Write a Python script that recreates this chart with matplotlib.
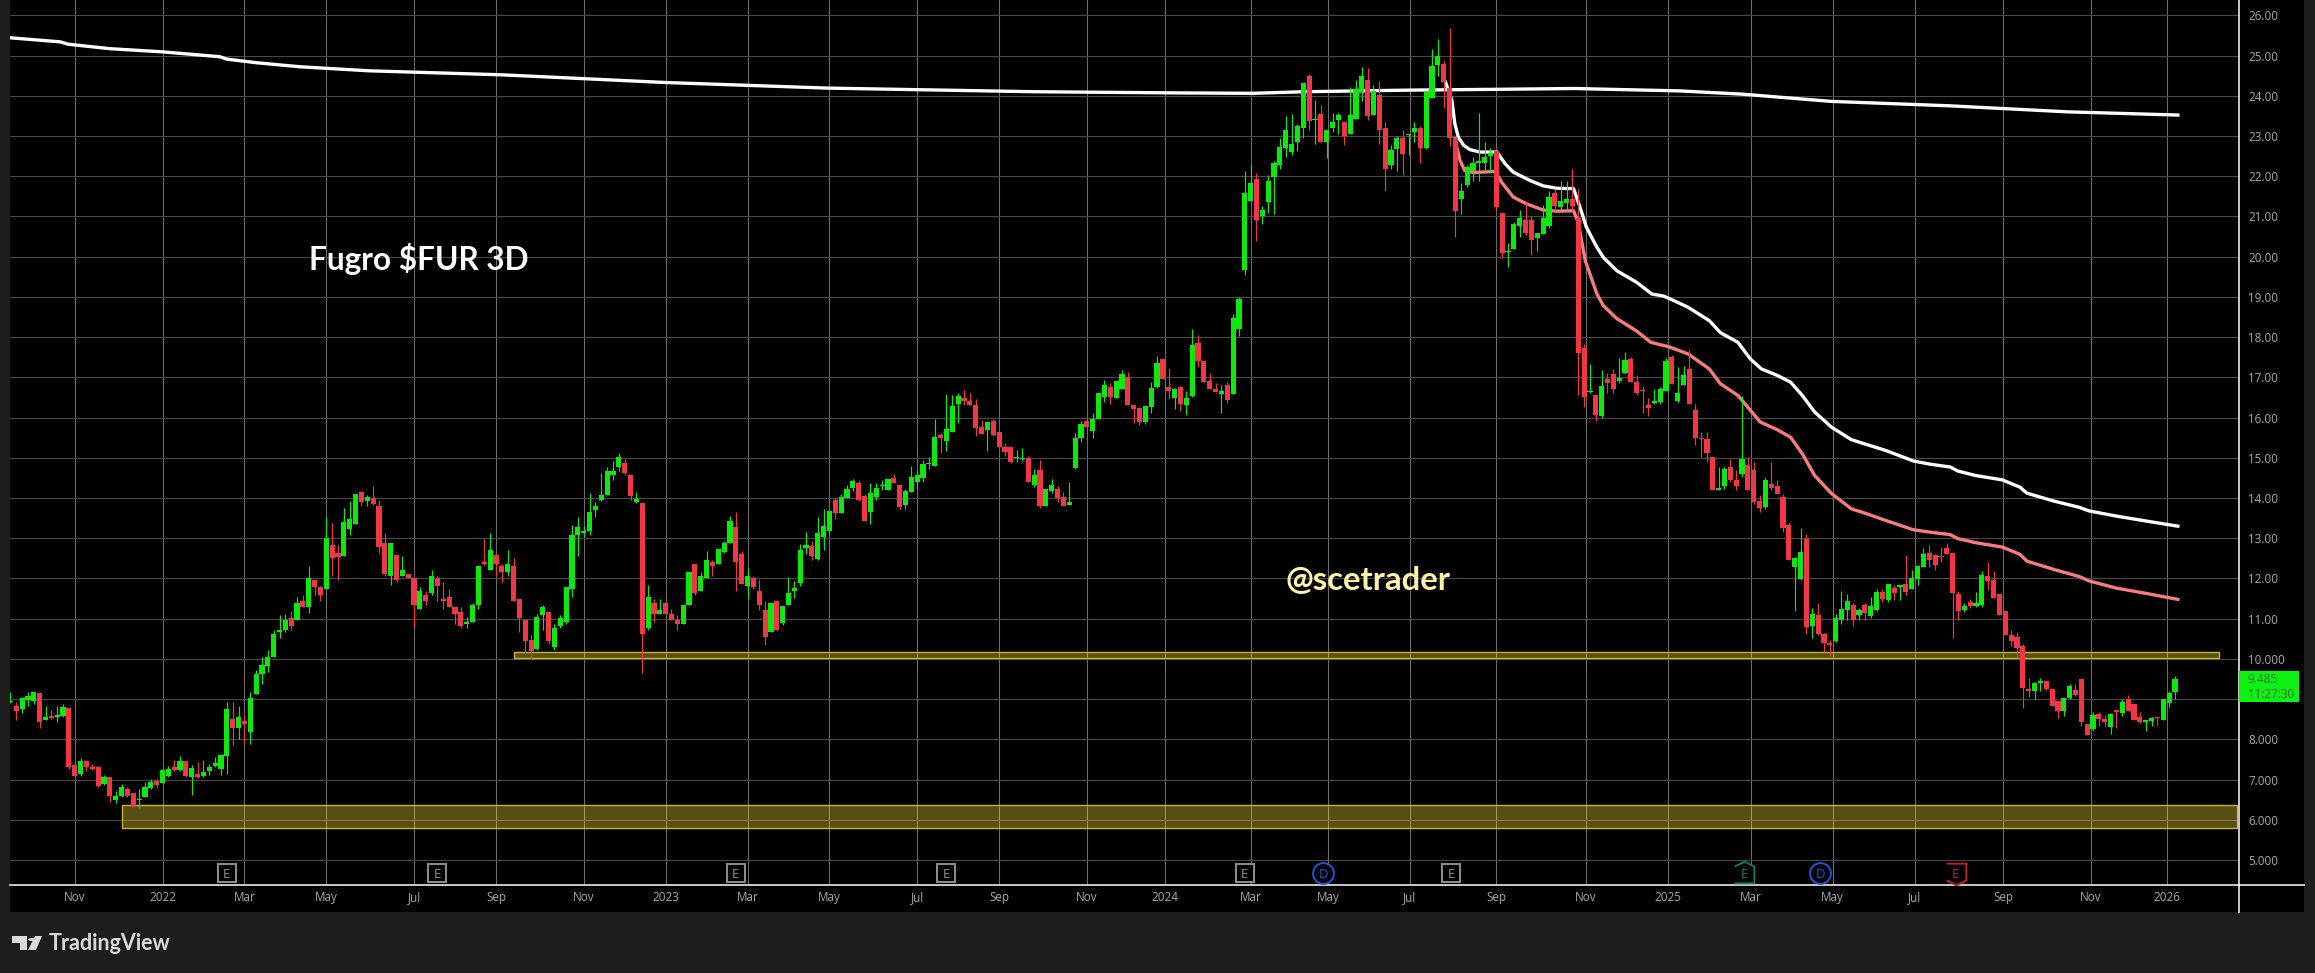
"""Fugro $FUR 3D candlestick chart, TradingView dark layout."""

import matplotlib

matplotlib.use("Agg")
import matplotlib.pyplot as plt
import numpy as np
from matplotlib.lines import Line2D
from matplotlib.patches import Circle, Polygon, Rectangle

W, H = 2315, 973

opens = [
    8.93, 8.82, 8.75, 8.99, 8.95, 9.15, 8.48, 8.58, 8.55, 8.58,
    8.77, 7.36, 7.14, 7.46, 7.31, 7.31, 6.89, 7.06, 6.49, 6.59,
    6.76, 6.67, 6.49, 6.56, 6.79, 6.96, 6.91, 7.09, 7.31, 7.24,
    7.46, 7.06, 7.14, 7.09, 7.21, 7.33, 7.26, 7.58, 8.50, 8.28,
    8.45, 8.18, 9.12, 9.62, 9.82, 10.06, 10.68, 10.73, 11.01, 10.98,
    11.45, 11.28, 11.95, 11.80, 11.75, 12.82, 12.64, 12.57, 13.24, 13.36,
    14.16, 13.93, 14.01, 13.81, 12.89, 12.05, 12.59, 12.07, 12.10, 12.02,
    11.25, 11.60, 11.63, 12.00, 11.50, 11.55, 11.30, 11.16, 10.86, 10.93,
    11.33, 12.40, 12.22, 12.59, 12.30, 12.17, 12.32, 11.48, 10.98, 10.46,
    10.24, 11.08, 11.16, 10.29, 10.81, 10.93, 11.75, 13.09, 13.14, 13.19,
    13.71, 13.96, 14.08, 14.58, 14.76, 14.88, 14.58, 13.90, 13.88, 10.78,
    11.40, 11.11, 11.40, 11.11, 10.98, 10.88, 11.33, 12.35, 11.68, 12.00,
    12.42, 12.35, 12.67, 12.89, 13.29, 12.62, 11.82, 12.00, 11.70, 11.21,
    10.68, 11.43, 10.90, 11.34, 11.69, 11.89, 12.76, 12.81, 12.49, 13.03,
    13.18, 13.95, 13.63, 14.00, 14.25, 14.37, 14.05, 13.65, 14.03, 14.30,
    14.20, 14.50, 14.32, 13.83, 14.15, 14.40, 14.50, 14.84, 14.80, 15.56,
    15.42, 15.64, 16.33, 16.48, 16.41, 16.31, 15.76, 15.69, 15.91, 15.64,
    15.27, 15.27, 14.99, 14.97, 14.99, 14.32, 14.70, 13.80, 14.18, 14.22,
    14.03, 13.83, 14.75, 15.49, 15.91, 15.66, 15.96, 16.51, 16.76, 16.48,
    16.71, 17.00, 16.31, 16.23, 15.89, 16.26, 16.76, 17.45, 16.76, 16.48,
    16.76, 16.31, 16.53, 17.85, 17.40, 16.90, 16.71, 16.58, 16.80, 16.58,
    18.19, 19.67, 21.39, 21.92, 21.02, 21.37, 21.97, 22.27, 22.69, 22.59,
    22.86, 23.21, 24.49, 23.40, 23.54, 22.86, 23.21, 23.39, 23.34, 23.04,
    23.41, 24.09, 24.39, 23.51, 24.01, 23.21, 22.29, 22.67, 22.96, 23.03,
    23.11, 23.19, 22.69, 23.94, 24.76, 24.78, 24.20, 22.94, 21.44, 21.79,
    22.14, 22.32, 22.34, 22.49, 22.62, 21.09, 20.11, 20.20, 20.75, 20.90,
    20.90, 20.47, 20.57, 20.75, 21.59, 21.24, 21.34, 21.44, 20.97, 17.73,
    16.63, 16.56, 16.03, 16.96, 17.08, 16.91, 17.11, 17.46, 16.88, 16.66,
    16.31, 16.37, 16.38, 16.66, 17.51, 16.40, 16.82, 17.20, 16.20, 15.48,
    15.46, 15.01, 14.20, 14.29, 14.76, 14.46, 14.59, 14.81, 14.69, 13.92,
    13.77, 14.36, 14.31, 14.02, 13.32, 12.28, 11.98, 12.99, 10.81, 11.09,
    10.61, 10.39, 10.44, 10.98, 11.21, 11.33, 11.09, 11.33, 11.06, 11.21,
    11.66, 11.46, 11.76, 11.80, 11.86, 11.73, 11.98, 12.28, 12.63, 12.58,
    12.55, 12.75, 12.63, 11.61, 11.21, 11.41, 11.31, 11.33, 12.05, 11.95,
    11.61, 11.18, 10.59, 10.54, 10.32, 9.22, 9.20, 9.41, 9.45, 9.25,
    8.95, 8.70, 9.02, 9.22, 9.50, 8.38, 8.25, 8.63, 8.50, 8.30,
    8.70, 8.65, 9.00, 8.87, 8.55, 8.43, 8.45, 8.53, 8.48, 8.90, 9.17,
]
closes = [
    8.95, 8.71, 9.02, 9.07, 9.17, 8.43, 8.55, 8.53, 8.60, 8.80,
    7.31, 7.09, 7.46, 7.31, 7.26, 6.85, 7.06, 6.59, 6.59, 6.81,
    6.59, 6.32, 6.52, 6.81, 6.94, 6.86, 7.24, 7.26, 7.24, 7.46,
    7.09, 7.28, 7.06, 7.19, 7.31, 7.41, 7.61, 8.75, 8.28, 8.55,
    8.38, 9.02, 9.62, 9.84, 10.04, 10.63, 10.71, 10.98, 10.83, 11.40,
    11.30, 12.02, 11.78, 11.60, 13.00, 12.52, 12.54, 13.41, 13.49, 14.11,
    13.91, 14.03, 13.86, 12.77, 12.10, 12.87, 11.97, 12.20, 12.02, 11.33,
    11.68, 11.45, 12.07, 11.82, 11.45, 11.30, 11.11, 10.81, 10.93, 11.33,
    12.32, 12.37, 12.72, 12.37, 12.15, 12.37, 11.45, 11.01, 10.44, 10.19,
    11.03, 11.30, 10.44, 10.78, 11.01, 11.80, 13.07, 13.29, 13.16, 13.66,
    13.81, 14.08, 14.66, 14.68, 15.01, 14.61, 14.06, 13.98, 10.63, 11.53,
    11.11, 11.21, 11.11, 10.98, 10.86, 11.33, 12.17, 11.65, 12.07, 12.45,
    12.30, 12.74, 12.87, 13.44, 12.40, 11.87, 12.05, 11.78, 11.33, 10.54,
    11.38, 10.73, 11.32, 11.64, 11.77, 12.71, 12.84, 12.56, 13.13, 13.31,
    13.68, 13.63, 14.02, 14.22, 14.42, 13.95, 13.43, 14.13, 14.25, 14.32,
    14.47, 14.37, 13.78, 14.18, 14.52, 14.57, 14.85, 14.85, 15.51, 15.49,
    15.71, 16.28, 16.53, 16.41, 16.31, 15.74, 15.59, 15.89, 15.56, 15.27,
    15.14, 14.89, 15.00, 14.98, 14.40, 14.57, 13.80, 14.22, 14.32, 14.00,
    13.80, 13.90, 15.49, 15.84, 15.76, 15.96, 16.61, 16.81, 16.51, 16.90,
    17.08, 16.31, 16.21, 15.89, 16.28, 16.73, 17.35, 16.95, 16.66, 16.71,
    16.33, 16.48, 17.80, 17.40, 16.88, 16.71, 16.63, 16.66, 16.43, 18.47,
    18.94, 21.57, 21.84, 20.92, 21.17, 21.89, 22.32, 22.72, 23.16, 22.79,
    23.24, 24.31, 23.36, 23.41, 22.84, 23.14, 23.34, 23.51, 23.01, 23.51,
    24.16, 24.49, 23.49, 24.11, 23.14, 22.19, 22.64, 22.96, 22.54, 23.04,
    23.19, 22.69, 24.09, 24.73, 24.98, 24.34, 22.94, 21.14, 21.64, 22.24,
    22.32, 22.39, 22.47, 22.57, 21.24, 20.10, 20.12, 20.80, 20.95, 20.60,
    20.42, 20.60, 20.97, 21.49, 21.27, 21.39, 21.44, 21.27, 17.60, 16.51,
    16.64, 16.06, 16.78, 16.86, 16.71, 16.98, 17.43, 16.88, 16.61, 16.65,
    16.23, 16.38, 16.71, 17.41, 16.83, 16.62, 17.07, 16.33, 15.48, 15.47,
    15.13, 14.19, 14.24, 14.71, 14.46, 14.31, 14.96, 14.19, 13.89, 13.74,
    14.44, 14.24, 14.11, 13.25, 12.45, 12.50, 12.67, 10.79, 11.11, 10.61,
    10.39, 10.34, 11.01, 11.23, 11.43, 10.96, 11.21, 11.14, 11.31, 11.66,
    11.48, 11.86, 11.63, 11.81, 11.66, 12.00, 12.30, 12.60, 12.45, 12.33,
    12.54, 12.60, 11.63, 11.18, 11.31, 11.31, 11.38, 12.08, 11.93, 11.51,
    11.09, 10.59, 10.44, 10.27, 9.27, 9.21, 9.40, 9.42, 9.25, 8.82,
    8.70, 9.02, 9.32, 9.10, 8.43, 8.10, 8.60, 8.50, 8.43, 8.63,
    8.69, 8.92, 8.70, 8.48, 8.43, 8.48, 8.53, 8.52, 9.00, 9.15, 9.50,
]
highs = [
    9.19, 8.93, 9.05, 9.17, 9.17, 9.15, 8.82, 8.72, 8.82, 8.87,
    8.77, 7.36, 7.53, 7.48, 7.38, 7.33, 7.11, 7.06, 6.71, 6.89,
    6.81, 6.67, 6.76, 6.94, 7.01, 7.01, 7.26, 7.33, 7.48, 7.58,
    7.46, 7.36, 7.43, 7.48, 7.38, 7.56, 7.63, 8.92, 8.92, 8.82,
    8.60, 9.19, 9.72, 10.04, 10.21, 10.71, 11.08, 11.11, 11.18, 11.55,
    11.58, 12.30, 11.95, 11.82, 13.54, 13.39, 12.82, 13.74, 13.93, 14.11,
    14.18, 14.08, 14.31, 13.96, 13.12, 12.87, 12.59, 12.57, 12.10, 12.02,
    11.80, 11.68, 12.20, 12.07, 11.90, 11.73, 11.30, 11.30, 11.03, 11.40,
    12.32, 12.97, 13.12, 12.59, 12.35, 12.72, 12.52, 11.48, 10.98, 10.59,
    11.11, 11.33, 11.16, 10.88, 11.08, 11.80, 13.34, 13.54, 13.31, 14.13,
    13.91, 14.61, 14.76, 14.91, 15.11, 14.96, 14.58, 14.16, 13.88, 11.85,
    11.50, 11.50, 11.40, 11.23, 11.08, 11.35, 12.17, 12.35, 12.15, 12.69,
    12.47, 12.74, 12.92, 13.56, 13.64, 12.69, 12.25, 12.05, 11.95, 11.45,
    11.38, 11.43, 11.32, 12.04, 11.94, 12.86, 13.16, 12.93, 13.53, 13.73,
    13.68, 14.00, 14.10, 14.32, 14.47, 14.42, 14.10, 14.37, 14.37, 14.45,
    14.47, 14.60, 14.32, 14.22, 14.80, 14.70, 14.94, 15.02, 15.96, 15.61,
    16.58, 16.56, 16.61, 16.68, 16.61, 16.46, 15.94, 15.89, 15.96, 15.64,
    15.37, 15.27, 15.19, 15.24, 15.04, 14.72, 14.94, 14.22, 14.47, 14.30,
    14.15, 14.40, 15.61, 15.91, 16.11, 16.11, 16.61, 16.93, 16.85, 16.90,
    17.18, 17.13, 16.31, 16.23, 16.28, 16.88, 17.52, 17.45, 17.23, 16.73,
    16.78, 16.66, 18.19, 18.05, 17.40, 17.10, 16.85, 16.80, 16.88, 18.57,
    18.99, 22.14, 22.27, 22.07, 21.27, 22.02, 22.39, 22.96, 23.49, 23.54,
    23.29, 24.31, 24.54, 23.89, 23.76, 23.14, 23.56, 23.56, 23.34, 24.21,
    24.39, 24.71, 24.68, 24.26, 24.36, 23.34, 22.77, 23.01, 23.16, 23.05,
    23.34, 23.24, 24.09, 25.16, 25.41, 24.86, 25.68, 22.94, 21.82, 22.27,
    22.47, 23.56, 22.84, 22.69, 22.62, 21.09, 20.35, 20.85, 21.17, 21.39,
    21.02, 20.60, 21.29, 21.64, 21.69, 21.89, 21.89, 22.17, 21.69, 17.83,
    17.33, 16.56, 17.18, 17.11, 17.21, 17.48, 17.63, 17.51, 17.06, 16.78,
    16.48, 16.71, 16.76, 17.48, 17.56, 17.25, 17.27, 17.67, 16.33, 15.63,
    15.63, 15.01, 14.76, 14.76, 14.96, 14.69, 16.53, 15.03, 14.89, 14.07,
    14.51, 14.89, 14.44, 14.09, 13.40, 12.53, 13.25, 13.10, 11.26, 11.38,
    10.64, 10.46, 11.11, 11.68, 11.61, 11.38, 11.26, 11.38, 11.53, 11.73,
    11.73, 11.86, 11.83, 11.83, 12.58, 12.20, 12.33, 12.75, 12.82, 12.60,
    12.77, 12.87, 12.63, 11.68, 11.38, 11.48, 11.66, 12.18, 12.40, 12.18,
    11.61, 11.18, 10.71, 10.66, 10.36, 9.52, 9.42, 9.52, 9.45, 9.25,
    8.95, 9.02, 9.37, 9.37, 9.50, 8.38, 8.68, 8.68, 8.60, 8.65,
    8.70, 9.00, 9.10, 8.87, 8.68, 8.48, 8.55, 8.55, 9.00, 9.20, 9.57,
]
lows = [
    8.90, 8.48, 8.66, 8.82, 8.89, 8.29, 8.48, 8.50, 8.43, 8.56,
    7.27, 7.09, 7.09, 7.21, 7.24, 6.82, 6.86, 6.44, 6.42, 6.57,
    6.57, 6.32, 6.29, 6.56, 6.76, 6.79, 6.91, 7.06, 7.21, 7.21,
    7.06, 6.62, 7.04, 7.06, 7.11, 7.32, 7.11, 7.14, 7.86, 8.00,
    7.90, 7.88, 9.12, 9.37, 9.67, 10.04, 10.51, 10.66, 10.71, 10.96,
    11.30, 11.13, 11.58, 11.45, 11.75, 12.07, 11.97, 12.57, 13.07, 13.36,
    13.79, 13.81, 13.83, 12.64, 12.07, 11.85, 11.92, 12.05, 12.00, 10.76,
    11.25, 11.35, 11.60, 11.45, 11.25, 11.28, 10.87, 10.76, 10.76, 10.93,
    11.25, 12.32, 12.22, 12.05, 11.90, 12.07, 11.45, 10.68, 10.11, 10.01,
    10.21, 10.71, 10.36, 10.21, 10.78, 10.87, 11.55, 12.57, 13.02, 13.07,
    13.54, 13.93, 14.08, 14.46, 14.66, 14.56, 13.96, 13.88, 9.64, 10.71,
    10.93, 11.11, 11.11, 10.96, 10.73, 10.87, 11.33, 11.58, 11.68, 12.00,
    12.07, 12.35, 12.64, 12.87, 11.70, 11.87, 11.50, 11.75, 11.21, 10.34,
    10.68, 10.70, 10.85, 11.34, 11.52, 11.82, 12.61, 12.46, 12.46, 12.71,
    13.11, 13.48, 13.63, 14.00, 14.18, 13.93, 13.43, 13.36, 13.95, 14.20,
    14.20, 14.37, 13.73, 13.73, 14.15, 14.22, 14.40, 14.72, 14.80, 15.12,
    15.17, 15.64, 15.86, 16.31, 16.31, 15.54, 15.59, 15.17, 15.54, 15.27,
    15.04, 14.87, 14.89, 14.92, 14.40, 14.27, 13.75, 13.80, 14.13, 13.90,
    13.80, 13.83, 14.72, 15.39, 15.44, 15.49, 15.96, 16.38, 16.33, 16.48,
    16.71, 16.31, 15.86, 15.81, 15.84, 16.11, 16.73, 16.95, 16.46, 16.21,
    16.16, 16.06, 16.51, 17.25, 16.88, 16.71, 16.63, 16.11, 16.36, 16.58,
    18.02, 19.55, 21.39, 20.40, 20.80, 21.09, 21.05, 22.17, 22.47, 22.52,
    22.62, 22.96, 23.14, 22.81, 22.84, 22.44, 23.11, 23.06, 22.77, 23.04,
    23.41, 23.86, 23.39, 23.51, 22.79, 21.64, 22.19, 22.12, 22.02, 22.52,
    22.86, 22.32, 22.67, 23.94, 24.49, 23.69, 22.74, 20.50, 21.07, 21.74,
    21.89, 21.89, 22.09, 22.09, 21.17, 19.97, 19.75, 20.20, 20.50, 20.55,
    20.05, 20.15, 20.57, 20.72, 21.14, 21.17, 21.14, 21.14, 16.56, 16.26,
    16.61, 15.91, 15.98, 16.61, 16.61, 16.86, 17.08, 16.88, 16.56, 16.11,
    16.03, 16.33, 16.33, 16.66, 16.83, 16.38, 16.82, 16.33, 15.33, 15.01,
    14.91, 14.19, 14.20, 14.22, 14.41, 14.19, 14.51, 14.19, 13.84, 13.64,
    13.72, 14.19, 14.09, 13.15, 12.45, 11.18, 11.95, 10.61, 10.51, 10.59,
    10.17, 10.07, 10.41, 10.86, 10.96, 10.81, 10.98, 10.98, 11.01, 11.18,
    11.41, 11.41, 11.46, 11.46, 11.58, 11.73, 11.83, 12.28, 12.28, 12.20,
    12.40, 12.60, 10.51, 10.98, 11.16, 11.26, 11.28, 11.28, 11.71, 11.51,
    11.09, 10.59, 10.32, 10.02, 8.78, 9.05, 9.00, 9.20, 9.22, 8.82,
    8.53, 8.58, 9.00, 9.07, 8.33, 8.10, 8.20, 8.33, 8.33, 8.13,
    8.28, 8.58, 8.70, 8.48, 8.40, 8.20, 8.33, 8.35, 8.48, 8.80, 9.00,
]

# moving averages, read at their bends (bar number, price)
ma_long_bars = [0, 8.5, 9.9, 17, 26.1, 35.8, 37, 42.1, 49.5, 61.3, 84, 111.8, 139.6, 174.9,
                199.9, 212.3, 221.2, 239.3, 254.3, 267.3, 285.4, 296, 311.2, 331.4, 351.6, 370.5]
ma_long = [25.44, 25.34, 25.28, 25.17, 25.09, 24.97, 24.91, 24.82, 24.72, 24.62, 24.52, 24.33, 24.19, 24.10,
           24.07, 24.06, 24.10, 24.14, 24.16, 24.18, 24.12, 24.04, 23.86, 23.75, 23.60, 23.52]

anchored_white_bars = [245.3, 246.4, 246.9, 247.5, 248.4, 249.5, 251.2, 254.1, 255.5, 256.9, 259.8, 262.0,
                       264.3, 267.2, 268.3, 269.4, 271.2, 272.3, 274.6, 278.0, 280.6, 282.6, 284.3, 286.8,
                       290.4, 292.3, 295.3, 297.4, 299.3, 302.0, 304.3, 306.3, 308.4, 311.3, 314.7, 317.3,
                       320.6, 325.3, 328.2, 331.6, 332.9, 335.9, 340.5, 343.5, 344.7, 349.4, 353.6, 355.3,
                       360.0, 365.4, 370.5]
anchored_white = [24.34, 23.89, 23.31, 22.97, 22.77, 22.66, 22.60, 22.60, 22.31, 22.10, 21.89, 21.76,
                  21.70, 21.69, 21.23, 20.73, 20.23, 19.98, 19.65, 19.36, 19.07, 19.02, 18.91, 18.74,
                  18.41, 18.11, 17.87, 17.46, 17.21, 17.05, 16.88, 16.55, 16.14, 15.76, 15.45, 15.33,
                  15.18, 14.92, 14.84, 14.77, 14.67, 14.56, 14.45, 14.27, 14.12, 13.92, 13.77, 13.68,
                  13.55, 13.42, 13.30]

anchored_pink_bars = [246.9, 247.8, 248.6, 250.1, 253.8, 254.9, 256.9, 259.2, 262.0, 264.3, 267.2, 268.0,
                      269.2, 271.2, 272.3, 274.6, 278.0, 280.4, 283.5, 286.8, 290.4, 292.3, 295.3, 299.1,
                      302.0, 304.3, 306.3, 308.4, 311.3, 314.7, 317.3, 320.6, 325.3, 328.2, 331.6, 332.9,
                      335.9, 340.5, 343.5, 344.7, 349.4, 353.6, 355.3, 360.0, 365.4, 370.5]
anchored_pink = [22.93, 22.39, 22.14, 22.09, 22.12, 21.85, 21.48, 21.31, 21.16, 21.13, 21.14, 20.85,
                 19.90, 19.07, 18.78, 18.46, 18.15, 17.87, 17.76, 17.58, 17.21, 16.84, 16.55, 15.89,
                 15.70, 15.51, 15.10, 14.56, 14.11, 13.73, 13.61, 13.44, 13.21, 13.15, 13.09, 12.99,
                 12.89, 12.78, 12.60, 12.43, 12.22, 12.05, 11.94, 11.76, 11.62, 11.48]

month_bars = [11, 26, 40, 54, 69, 83, 98, 112, 126, 140, 155, 169, 184, 197.3, 212, 225.2, 239.2,
              254, 269.3, 283.3, 297.5, 311.5, 325.5, 340.6, 355.6, 368.6]
month_labels = ["Nov", "2022", "Mar", "May", "Jul", "Sep", "Nov", "2023", "Mar", "May", "Jul", "Sep", "Nov",
                "2024", "Mar", "May", "Jul", "Sep", "Nov", "2025", "Mar", "May", "Jul", "Sep", "Nov", "2026"]
price_levels = list(range(5, 27))
# the 9.000 label sits under the last price tag
price_labels = ["" if p == 9 else f"{p}.00" if p > 10 else f"{p}.000" for p in price_levels]

# support zones: first bar, last bar, low, high
zone_low = (19, 380.6, 5.79, 6.36)
zone_high = (86, 377.5, 10.03, 10.18)

earnings_bars = [37, 73, 124, 160, 211, 246.3]
earnings_up_bar = 296.4
earnings_down_bar = 332.5
dividend_bars = [224.4, 309.4]

last_price = 9.485
countdown = "11:27:30"

UP = "#0de80f"
DOWN = "#f23645"
BG = "#1e1e1e"
AXIS_TEXT = "#a8a9ae"
FONT = "Open Sans"

plt.rcParams["font.family"] = [FONT, "DejaVu Sans"]

fig = plt.figure(figsize=(W / 100, H / 100), dpi=100, facecolor=BG)


def px(x, y):
    return x / W, 1 - y / H


def px_rect(x0, y0, x1, y1, **kw):
    fx, fy = px(x0, y1)
    return Rectangle((fx, fy), (x1 - x0) / W, (y1 - y0) / H, transform=fig.transFigure, **kw)


fig.patches.append(px_rect(10.3, 0, 2304, 912, facecolor="black", edgecolor="none", zorder=-5))

ax_l, ax_b = px(10.3, 885)
ax = fig.add_axes([ax_l, ax_b, (2239.3 - 10.3) / W, 885 / H], facecolor="black")
ax.set_xlim(-0.02, 381.0)
ax.set_ylim(4.38, 26.38)

bars = np.arange(len(opens))
o = np.array(opens)
c = np.array(closes)
colors = [UP if b >= a else DOWN for a, b in zip(o, c)]

ax.set_yticks(price_levels, price_labels)
ax.set_xticks(month_bars, month_labels)
ax.yaxis.tick_right()
ax.tick_params(axis="both", length=0, labelsize=8.4, labelcolor=AXIS_TEXT)
ax.tick_params(axis="y", pad=6.2)
ax.tick_params(axis="x", pad=4.5)
ax.grid(True, axis="y", color="#4a4a4a", linewidth=0.75, zorder=0)
ax.grid(True, axis="x", color="#6c6c6c", linewidth=0.75, zorder=0)
ax.set_axisbelow(True)
for side in ("left", "top"):
    ax.spines[side].set_visible(False)
for side in ("right", "bottom"):
    ax.spines[side].set_color("white")
    ax.spines[side].set_linewidth(1.1)

for x0, x1, low, high in (zone_low, zone_high):
    ax.add_patch(Rectangle((x0, low), x1 - x0, high - low, facecolor="#ffe33c", alpha=0.35,
                           edgecolor="none", zorder=1.5))
    ax.add_patch(Rectangle((x0, low), x1 - x0, high - low, fill=False, edgecolor="#c9b528",
                           linewidth=1.0, zorder=1.6))

ax.plot(ma_long_bars, ma_long, color="white", linewidth=2.4, zorder=2)
ax.plot(anchored_white_bars, anchored_white, color="white", linewidth=2.4, zorder=2)
ax.plot(anchored_pink_bars, anchored_pink, color="#f77c80", linewidth=2.4, zorder=2)

ax.vlines(bars, lows, highs, colors=colors, linewidth=0.85, zorder=3)
bottoms = np.minimum(o, c)
heights = np.maximum(np.abs(c - o), 0.03)
ax.bar(bars, heights, bottom=bottoms, width=0.88, color=colors, linewidth=0, zorder=3.1)

ax.text(51, 19.95, "Fugro $FUR 3D", color="white", fontsize=22.8, fontweight="bold",
        family=["Lato", "DejaVu Sans"], va="center", ha="left", zorder=5)
ax.text(218, 11.94, "@scetrader", color="#fff3a8", fontsize=23.7, fontweight="bold",
        family=["Lato", "DejaVu Sans"], va="center", ha="left", zorder=5)

# event badges along the bottom of the chart
badge_y = 4.69
house_up = [(-1, -1), (1, -1), (1, 0.7), (0, 1.2), (-1, 0.7)]
house_down = [(-1, 1), (1, 1), (1, -0.7), (0, -1.2), (-1, -0.7)]


def badge(x, letter, color, marker, size=13):
    ax.plot([x], [badge_y], marker=marker, markersize=size, markerfacecolor="black",
            markeredgecolor=color, markeredgewidth=1.4, linestyle="none", clip_on=False, zorder=6)
    ax.text(x, badge_y, letter, color=color, fontsize=9.5, ha="center", va="center_baseline", zorder=7)


for b in earnings_bars:
    badge(b, "E", "#8f8f8f", "s")
badge(earnings_up_bar, "E", "#0f7a68", house_up, 17)
badge(earnings_down_bar, "E", "#b8232f", house_down, 17)
for b in dividend_bars:
    badge(b, "D", "#1f55d8", "o", 15)

# last price tag on the price scale
tag_tf = ax.get_yaxis_transform()
ax.add_patch(Rectangle((1.0, 8.94), 60 / 2229, 0.76, transform=tag_tf, facecolor="#0ff013",
                       edgecolor="none", clip_on=False, zorder=8))
ax.text(1 + 8.5 / 2229, 9.485, f"{last_price:.3f}", transform=tag_tf, color="#22682a", fontsize=8.4,
        va="center", ha="left", clip_on=False, zorder=9)
ax.text(1 + 8.5 / 2229, 9.115, countdown, transform=tag_tf, color="#22682a", fontsize=8.4,
        va="center", ha="left", clip_on=False, zorder=9)

# scale borders carried on past the plot area
fx0, fy0 = px(2239.3, 885)
fx1, fy1 = px(2239.3, 912)
fig.add_artist(Line2D([fx0, fx1], [fy0, fy1], color="white", linewidth=1.1))
fx2, _ = px(2304, 885)
fig.add_artist(Line2D([fx0, fx2], [fy0, fy0], color="white", linewidth=1.1))

# TradingView logo and wordmark in the footer
logo = "#d9d9d9"
fig.add_artist(Polygon([px(12, 936), px(27, 936), px(27, 950), px(20, 950), px(20, 943), px(12, 943)],
                       closed=True, facecolor=logo, edgecolor="none", transform=fig.transFigure))
fig.add_artist(Polygon([px(35, 936), px(42, 936), px(36, 950), px(28, 950)],
                       closed=True, facecolor=logo, edgecolor="none", transform=fig.transFigure))
fig.add_artist(Circle(px(31.5, 939.5), 3.4 / W, facecolor=logo, edgecolor="none", transform=fig.transFigure))
tx, ty = px(49, 943)
fig.text(tx, ty, "TradingView", color=logo, fontsize=15.5, fontweight="bold",
         family=["Lato", "DejaVu Sans"], va="center", ha="left")

fig.savefig("out.png", dpi=100, facecolor=BG)
plt.close(fig)
